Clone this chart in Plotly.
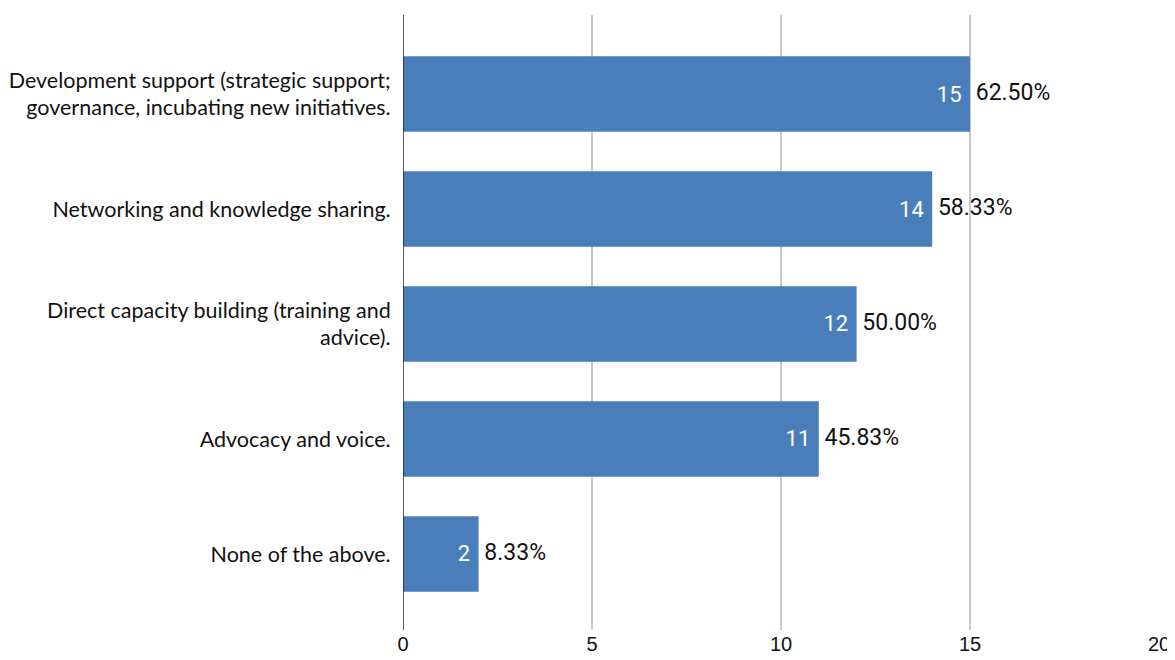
import plotly.graph_objects as go

categories = [
    "Development support (strategic support;<br>governance, incubating new initiatives.",
    "Networking and knowledge sharing.",
    "Direct capacity building (training and<br>advice).",
    "Advocacy and voice.",
    "None of the above.",
]
counts = [15, 14, 12, 11, 2]
percents = ["62.50%", "58.33%", "50.00%", "45.83%", "8.33%"]
x_ticks = [0, 5, 10, 15, 20]

pos = list(range(len(categories)))
bar_color = "#4a7ebb"
NB = "\u00a0"

fig = go.Figure()
fig.add_trace(go.Bar(
    x=counts, y=pos, orientation="h",
    marker=dict(color=bar_color, line=dict(width=0)),
    width=0.655,
    text=[str(c) + NB for c in counts],
    textposition="inside", insidetextanchor="end",
    textfont=dict(family="Roboto", size=22, color="white"),
    cliponaxis=False,
    hoverinfo="skip",
))
fig.add_trace(go.Scatter(
    x=counts, y=pos, mode="text",
    text=[NB + p for p in percents], textposition="middle right",
    textfont=dict(family="Roboto", size=23, color="#111111"),
    hoverinfo="skip", cliponaxis=False,
))

fig.update_layout(
    width=1175, height=660,
    margin=dict(l=395, r=24, t=7, b=38),
    paper_bgcolor="white", plot_bgcolor="white",
    showlegend=False,
    uniformtext=dict(mode=False),
    xaxis=dict(
        range=[0, 20], tickvals=x_ticks, ticktext=[str(t) for t in x_ticks],
        showgrid=True, gridcolor="#c8c8c8", gridwidth=1.5,
        zeroline=False, showline=False, automargin=False,
        ticks="", 
        tickfont=dict(family="Liberation Sans", size=20, color="#111111"),
        fixedrange=True,
    ),
    yaxis=dict(
        range=[4.661, -0.687],
        tickvals=pos, ticktext=categories,
        showgrid=False, zeroline=False, automargin=False,
        showline=False,
        ticks="outside", ticklen=7, tickcolor="rgba(0,0,0,0)",
        tickfont=dict(family="Lato", size=21.5, color="#111111"),
        fixedrange=True,
    ),
    shapes=[dict(type="line", xref="x", yref="paper", x0=0, x1=0, y0=0, y1=1,
                 line=dict(color="#222222", width=1.5))],
)

fig.write_html("out.html")
